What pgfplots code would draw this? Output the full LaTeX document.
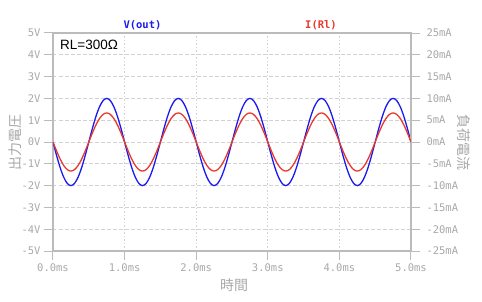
\documentclass[border=0pt]{standalone}
\usepackage{pgfplots}
\pgfplotsset{compat=1.18}
\usepackage{pgfplotstable}
\usepackage{fontspec}
\setmainfont{Liberation Sans}
\setmonofont{DejaVu Sans Mono}
\newfontfamily\cjk{Noto Sans CJK JP}
\definecolor{axgray}{HTML}{BBBBBB}
\definecolor{txtgray}{HTML}{A8A8A8}
\definecolor{gridgray}{HTML}{D2D2D2}
\definecolor{vblue}{HTML}{1A1AF0}
\definecolor{ired}{HTML}{E8392E}

\pgfplotstableread{
t V I
0.00 0 0
0.05 -0.618 -2.060
0.10 -1.176 -3.919
0.15 -1.618 -5.393
0.20 -1.902 -6.341
0.25 -2.000 -6.667
0.30 -1.902 -6.341
0.35 -1.618 -5.393
0.40 -1.176 -3.919
0.45 -0.618 -2.060
0.50 0 0
0.55 0.618 2.060
0.60 1.176 3.919
0.65 1.618 5.393
0.70 1.902 6.341
0.75 2.000 6.667
0.80 1.902 6.341
0.85 1.618 5.393
0.90 1.176 3.919
0.95 0.618 2.060
1.00 0 0
1.05 -0.618 -2.060
1.10 -1.176 -3.919
1.15 -1.618 -5.393
1.20 -1.902 -6.341
1.25 -2.000 -6.667
1.30 -1.902 -6.341
1.35 -1.618 -5.393
1.40 -1.176 -3.919
1.45 -0.618 -2.060
1.50 0 0
1.55 0.618 2.060
1.60 1.176 3.919
1.65 1.618 5.393
1.70 1.902 6.341
1.75 2.000 6.667
1.80 1.902 6.341
1.85 1.618 5.393
1.90 1.176 3.919
1.95 0.618 2.060
2.00 0 0
2.05 -0.618 -2.060
2.10 -1.176 -3.919
2.15 -1.618 -5.393
2.20 -1.902 -6.341
2.25 -2.000 -6.667
2.30 -1.902 -6.341
2.35 -1.618 -5.393
2.40 -1.176 -3.919
2.45 -0.618 -2.060
2.50 0 0
2.55 0.618 2.060
2.60 1.176 3.919
2.65 1.618 5.393
2.70 1.902 6.341
2.75 2.000 6.667
2.80 1.902 6.341
2.85 1.618 5.393
2.90 1.176 3.919
2.95 0.618 2.060
3.00 0 0
3.05 -0.618 -2.060
3.10 -1.176 -3.919
3.15 -1.618 -5.393
3.20 -1.902 -6.341
3.25 -2.000 -6.667
3.30 -1.902 -6.341
3.35 -1.618 -5.393
3.40 -1.176 -3.919
3.45 -0.618 -2.060
3.50 0 0
3.55 0.618 2.060
3.60 1.176 3.919
3.65 1.618 5.393
3.70 1.902 6.341
3.75 2.000 6.667
3.80 1.902 6.341
3.85 1.618 5.393
3.90 1.176 3.919
3.95 0.618 2.060
4.00 0 0
4.05 -0.618 -2.060
4.10 -1.176 -3.919
4.15 -1.618 -5.393
4.20 -1.902 -6.341
4.25 -2.000 -6.667
4.30 -1.902 -6.341
4.35 -1.618 -5.393
4.40 -1.176 -3.919
4.45 -0.618 -2.060
4.50 0 0
4.55 0.618 2.060
4.60 1.176 3.919
4.65 1.618 5.393
4.70 1.902 6.341
4.75 2.000 6.667
4.80 1.902 6.341
4.85 1.618 5.393
4.90 1.176 3.919
4.95 0.618 2.060
5.00 0 0
}\data

\begin{document}
\begin{tikzpicture}
\useasboundingbox (0,0) rectangle (482pt,301pt);
\pgfplotsset{
  common/.style={
    at={(53pt,50pt)}, anchor=south west, scale only axis,
    width=358pt, height=218pt,
    xmin=0, xmax=5,
    axis line style={axgray, line width=1.2pt},
    tick style={axgray, line width=1pt},
    major tick length=9pt,
    tick align=outside,
    ticklabel style={font=\ttfamily\fontsize{10.5}{12}\selectfont, text=txtgray},
  }
}
\begin{axis}[common,
  ymin=-5, ymax=5,
  xtick={0,1,2,3,4,5},
  xticklabels={0.0ms,1.0ms,2.0ms,3.0ms,4.0ms,5.0ms},
  ytick={-5,-4,-3,-2,-1,0,1,2,3,4,5},
  yticklabels={-5V,-4V,-3V,-2V,-1V,0V,1V,2V,3V,4V,5V},
  xtick pos=bottom, ytick pos=left,
  grid=major,
  x grid style={gridgray, dash pattern=on 1.5pt off 2pt, line width=0.9pt},
  y grid style={gridgray, dash pattern=on 3.5pt off 2.5pt, line width=0.9pt},
]
\addplot[vblue, line width=1.3pt, smooth, no markers] table[x=t, y=V]{\data};
\end{axis}
\begin{axis}[common,
  ymin=-25, ymax=25,
  hide x axis,
  axis y line*=right,
  ytick={-25,-20,-15,-10,-5,0,5,10,15,20,25},
  yticklabels={-25mA,-20mA,-15mA,-10mA,-5mA,0mA,5mA,10mA,15mA,20mA,25mA},
  yticklabel style={anchor=west, xshift=3pt},
]
\addplot[ired, line width=1.3pt, smooth, no markers] table[x=t, y=I]{\data};
\end{axis}
\node[font=\ttfamily\bfseries\fontsize{10.5}{12}\selectfont, text=vblue] at (142.5pt,275.5pt) {V(out)};
\node[font=\ttfamily\bfseries\fontsize{10.5}{12}\selectfont, text=ired] at (321pt,275.5pt) {I(Rl)};
\node[anchor=west, font=\fontsize{13.5}{15}\selectfont, inner sep=0pt] at (60pt,256pt) {RL=300Ω};
\node[font=\cjk\fontsize{14}{16}\selectfont, text=txtgray] at (234pt,16pt) {時間};
\node[font=\cjk\fontsize{14}{16}\selectfont, text=txtgray, rotate=90] at (15pt,159pt) {出力電圧};
\node[font=\cjk\fontsize{14}{16}\selectfont, text=txtgray, rotate=-90] at (464pt,159pt) {負荷電流};
\end{tikzpicture}
\end{document}
